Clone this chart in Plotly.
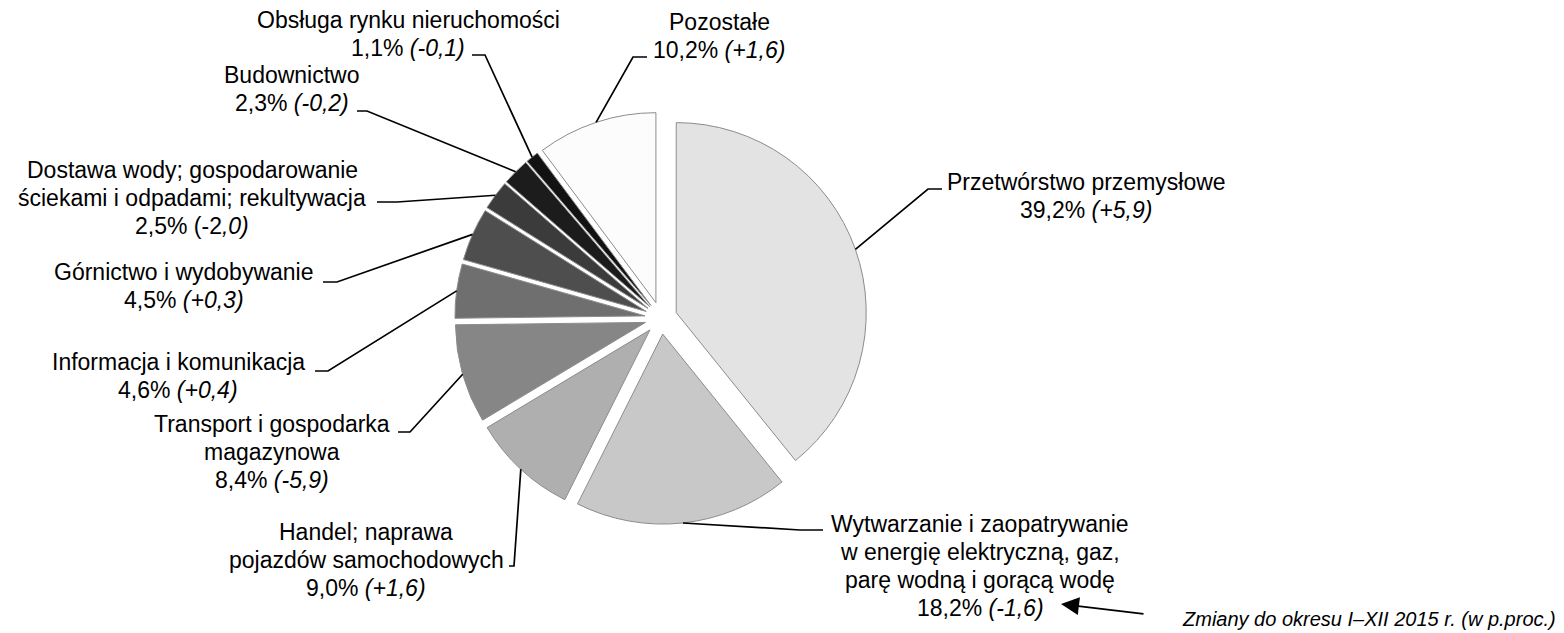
import math
import plotly.graph_objects as go

# --- data -------------------------------------------------------------
label_lines = [
    ["Przetwórstwo przemysłowe"],
    ["Wytwarzanie i zaopatrywanie", "w energię elektryczną, gaz,", "parę wodną i gorącą wodę"],
    ["Handel; naprawa", "pojazdów samochodowych"],
    ["Transport i gospodarka", "magazynowa"],
    ["Informacja i komunikacja"],
    ["Górnictwo i wydobywanie"],
    ["Dostawa wody; gospodarowanie", "ściekami i odpadami; rekultywacja"],
    ["Budownictwo"],
    ["Obsługa rynku nieruchomości"],
    ["Pozostałe"],
]
sectors = [" ".join(lines) for lines in label_lines]
shares = [39.2, 18.2, 9.0, 8.4, 4.6, 4.5, 2.5, 2.3, 1.1, 10.2]
changes = [5.9, -1.6, 1.6, -5.9, 0.4, 0.3, -2.0, -0.2, -0.1, 1.6]
colors = ["#e3e3e3", "#c8c8c8", "#afafaf", "#868686", "#6f6f6f",
          "#4e4e4e", "#3b3b3b", "#1c1c1c", "#121212", "#fcfcfc"]
note = "Zmiany do okresu I–XII 2015 r. (w p.proc.)"

# --- layout constants (pixels) ----------------------------------------
W, H = 1564, 633
FONT = "Liberation Sans, Arial, sans-serif"
FS = 23
LINE_H = 28
PULL = 0.085
CX, CY, BOX = 661, 318, 412.3
R = BOX / (2 + 2 * PULL)

# label placement: centre x, first baseline, stub start x, elbow x, stub y
placement = [
    (1086, 190, 942, 928, 189),
    (980, 532, 823, 800, 530),
    (366, 540, 509, 514, 566),
    (272, 432, 398, 410, 432),
    (178, 370, 315, 328, 371),
    (184, 280, 323, 337, 282),
    (192, 178, 377, 397, 202),
    (292, 83, 357, 367, 111),
    (408, 28, 472, 485, 55),
    (719, 30, 647, 633, 57),
]
# number of leading characters of the change kept upright
upright = [0, 0, 0, 0, 0, 0, 3, 0, 0, 0]


def px(x):
    return x / W


def py(y):
    return 1 - y / H


def fmt(v):
    return f"{abs(v):.1f}".replace(".", ",")


fig = go.Figure(go.Pie(
    labels=sectors,
    values=shares,
    sort=False,
    direction="clockwise",
    rotation=0,
    pull=[PULL] * len(shares),
    textinfo="none",
    hoverinfo="label+percent",
    marker=dict(colors=colors, line=dict(color="#8c8c8c", width=1)),
    domain=dict(x=[px(CX - BOX / 2), px(CX + BOX / 2)],
                y=[py(CY + BOX / 2), py(CY - BOX / 2)]),
    showlegend=False,
))

annotations = []
shapes = []
total = sum(shares)
cum = 0.0
for i, share in enumerate(shares):
    mid = math.radians((cum + share / 2) / total * 360)
    cum += share
    rr = R * (1 + PULL)
    ax_, ay_ = CX + rr * math.sin(mid), CY - rr * math.cos(mid)

    sign = "+" if changes[i] > 0 else "-"
    chg = f"({sign}{fmt(changes[i])})"
    k = upright[i]
    value_line = f"{fmt(share)}% {chg[:k]}<i>{chg[k:]}</i>"
    lines = label_lines[i] + [value_line]

    lx, base, sx0, sx1, sy = placement[i]
    for j, text in enumerate(lines):
        baseline = base + j * LINE_H
        annotations.append(dict(
            x=px(lx), y=py(baseline - 0.3465 * FS), xref="paper", yref="paper",
            text=text, showarrow=False, xanchor="center", yanchor="middle",
            font=dict(family=FONT, size=FS, color="#000000"),
        ))
    shapes.append(dict(
        type="path", xref="paper", yref="paper",
        path=f"M {px(sx0)} {py(sy)} L {px(sx1)} {py(sy)} L {px(ax_)} {py(ay_)}",
        line=dict(color="#000000", width=1.7),
    ))

# footnote with arrow pointing at the value line
annotations.append(dict(
    x=px(1558), y=py(626 - 0.3465 * 20), xref="paper", yref="paper",
    text=f"<i>{note}</i>", showarrow=False, xanchor="right", yanchor="middle",
    font=dict(family=FONT, size=20, color="#000000"),
))
annotations.append(dict(
    x=px(1061), y=py(604), xref="paper", yref="paper",
    ax=84, ay=10, axref="pixel", ayref="pixel",
    text="", showarrow=True, arrowhead=2, arrowsize=2, arrowwidth=1.8,
    arrowcolor="#000000",
))

fig.update_layout(
    width=W, height=H,
    margin=dict(l=0, r=0, t=0, b=0),
    paper_bgcolor="#ffffff",
    plot_bgcolor="#ffffff",
    annotations=annotations,
    shapes=shapes,
)

fig.write_html("out.html")
